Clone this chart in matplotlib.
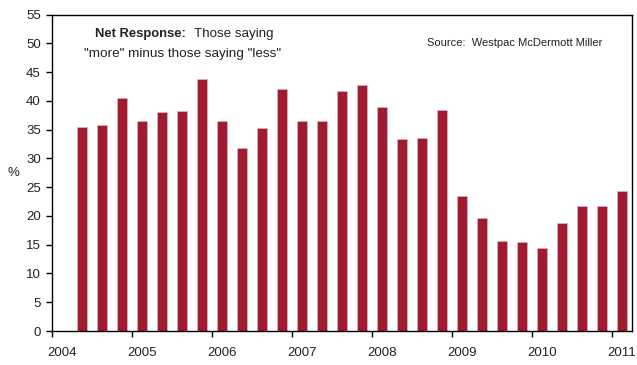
import matplotlib
matplotlib.use("Agg")
import matplotlib.pyplot as plt
import numpy as np

plt.rcParams['font.family'] = ['Liberation Sans', 'DejaVu Sans']

values = [35.4, 35.8, 40.6, 36.5, 38.0, 38.2, 43.9, 36.6, 31.9, 35.3,
          42.1, 36.6, 36.6, 41.7, 42.7, 39.0, 33.3, 33.5, 38.4, 23.5,
          19.7, 15.65, 15.4, 14.4, 18.8, 21.7, 21.7, 24.3]
start_year = 2004.375
step = 0.25
positions = start_year + step * np.arange(len(values))
year_ticks = [2004, 2005, 2006, 2007, 2008, 2009, 2010, 2011]
y_ticks = list(range(0, 56, 5))

W, H = 637, 365
fig = plt.figure(figsize=(W / 100, H / 100), dpi=100)
ax = fig.add_axes([52 / W, (H - 331) / H, (632 - 52) / W, (331 - 14.7) / H])

ax.bar(positions, values, width=0.133, color='#9E1B30', edgecolor='#E9B9C1',
       linewidth=0.4, align='center', zorder=2)

ax.set_xlim(2004, 2004 + (632 - 52) / 80)
ax.set_ylim(0, 55)
ax.set_yticks(y_ticks)
ax.set_yticklabels([str(v) for v in y_ticks])
ax.set_xticks(year_ticks)
ax.set_xticklabels([])

for spine in ax.spines.values():
    spine.set_color('black')
    spine.set_linewidth(1.0)

ax.tick_params(axis='y', direction='out', length=4, width=1, labelsize=9.5,
               colors='black', pad=4)
ax.tick_params(axis='x', direction='out', length=4, width=1, colors='black')
ax.tick_params(axis='y', labelcolor='#222222')

def fx(px):
    return px / W

def fy(py):
    return 1 - py / H

for yr in year_ticks:
    px = 52 + (yr - 2004) * 80 + 10
    fig.text(fx(px), fy(353), str(yr), ha='center', va='center', fontsize=9.5,
             color='#222222')

fig.text(fx(13), fy(173), '%', ha='center', va='center', fontsize=9.5, color='#222222')

fig.text(fx(95), fy(34), 'Net Response:', ha='left', va='center', fontsize=9.4,
         fontweight='bold', color='#222222')
fig.text(fx(194), fy(34), 'Those saying', ha='left', va='center', fontsize=9.6,
         color='#222222')
fig.text(fx(182.5), fy(54), '"more" minus those saying "less"', ha='center',
         va='center', fontsize=9.7, color='#222222')

fig.text(fx(515), fy(43), 'Source:  Westpac McDermott Miller', ha='center',
         va='center', fontsize=8, color='#222222')

fig.savefig('out.png', dpi=100)
